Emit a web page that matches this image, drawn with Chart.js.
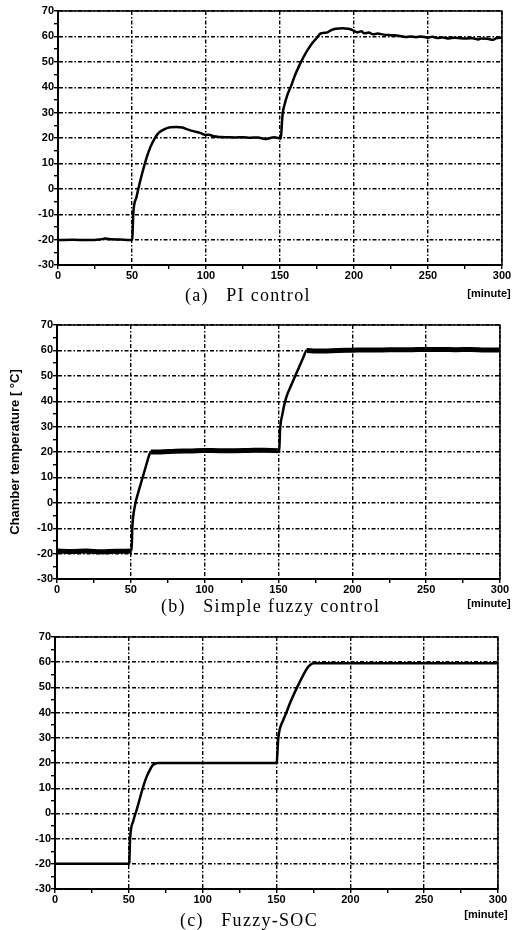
<!DOCTYPE html>
<html lang="en">
<head>
    <meta charset="UTF-8">
    <title>Chamber temperature response</title>
    <script src="https://cdn.jsdelivr.net/npm/chart.js"></script>
    <style>
        body { margin: 0; background: #fff; width: 513px; height: 930px; position: relative; overflow: hidden; }
        canvas { position: absolute; left: 0; }
        .caption { position: absolute; font-family: "Liberation Serif", "DejaVu Serif", serif; font-size: 18px; letter-spacing: 1.3px; color: #000; white-space: pre; transform: translateY(-50%); }
        .unit { position: absolute; font-family: "Liberation Sans", Arial, sans-serif; font-weight: bold; font-size: 11px; color: #000; transform: translate(-50%, -50%); }
    </style>
</head>
<body>
    <canvas id="chartA" width="513" height="300" style="top:0px"></canvas>
    <canvas id="chartB" width="513" height="300" style="top:310px"></canvas>
    <canvas id="chartC" width="513" height="290" style="top:620px"></canvas>

    <div class="caption" style="left:185px; top:295px">(a)   PI control</div>
    <div class="caption" style="left:161px; top:606px">(b)   Simple fuzzy control</div>
    <div class="caption" style="left:180px; top:920px">(c)   Fuzzy-SOC</div>

    <div class="unit" style="left:489px; top:293px">[minute]</div>
    <div class="unit" style="left:489px; top:603px">[minute]</div>
    <div class="unit" style="left:486px; top:914px">[minute]</div>

    <script>
        // (a) PI control - time [min], temperature [C]
        const piTime = [0, 10, 20, 28, 32, 36, 42, 48, 50.2, 50.6, 50.9, 53, 55.5, 58, 60, 62.5, 65, 68, 72, 76, 80, 84, 88, 92, 96,
            100, 102, 105, 110, 115, 120, 125, 130, 135, 140, 143, 146, 149, 150.6, 151.2, 151.8, 153, 155, 157.5, 160, 163,
            166, 169, 172, 175, 177, 180, 182, 185, 188, 192, 196, 199, 202, 205, 207, 210, 213, 216, 220, 225, 230, 235,
            238, 242, 245, 250, 253, 256, 260, 264, 268, 272, 276, 280, 284, 286, 290, 294, 296, 300];
        const piTemp = [-20.2, -20.1, -20.2, -20, -19.6, -19.9, -20, -20.2, -20, -14, -9.5, -3.3, 3, 8.5, 12.5, 16.5, 19.5, 22, 23.5, 24.2, 24.3, 24.1, 23.3, 22.6, 22,
            21.2, 21.3, 20.7, 20.4, 20.3, 20.2, 20.3, 20.1, 20.2, 19.6, 19.9, 20.3, 20, 19.8, 25, 29.5, 33, 37, 40.5, 44.5, 48.5,
            52, 55, 57.5, 59.5, 61, 61.4, 61.6, 62.6, 63, 63.2, 63, 62.5, 61.6, 62, 61.2, 61.5, 60.8, 61.1, 60.7, 60.5, 60.3, 59.8,
            60, 59.7, 60, 59.5, 59.9, 59.4, 59.6, 59.2, 59.5, 59.3, 59.2, 59.3, 58.8, 59.2, 59.1, 58.7, 59.3, 59.5];

        // (b) Simple fuzzy control
        const fuzzyTime = [0, 10, 20, 30, 40, 50.5, 51, 52.5, 55, 57.5, 60, 62, 63.5, 70, 80, 90, 100, 110, 120, 130, 140, 149.5,
            150.5, 151, 152.5, 155, 158, 161, 164, 167, 169, 175, 180, 190, 200, 210, 220, 230, 240, 250, 260, 270, 280, 290, 300];
        const fuzzyTemp = [-19, -19.2, -19, -19.3, -19.1, -19, -10, -2, 4, 9, 14, 18, 20, 20, 20.3, 20.4, 20.6, 20.5, 20.5, 20.6, 20.7, 20.5,
            20, 28, 34.5, 41, 45.5, 49.5, 53.5, 57.5, 60, 59.8, 59.8, 60, 60.1, 60.2, 60.2, 60.3, 60.3, 60.4, 60.4, 60.3, 60.4, 60.2, 60.2];

        // (c) Fuzzy-SOC
        const socTime = [0, 50, 50.3, 50.8, 53, 55.3, 57.5, 59.8, 62, 64.3, 66, 68, 70, 150, 150.3, 151.2, 152.5, 154.6, 157, 159.1,
            163.7, 168.2, 171, 173, 175, 180, 300];
        const socTemp = [-20, -20, -19.5, -10.5, -3, 1.4, 6, 10.7, 14.5, 17.3, 19, 19.8, 20, 20, 21, 29.8, 34, 37.1, 40.5, 43.7,
            49.7, 55, 57.8, 59, 59.6, 59.6, 59.6];

        const xMin = 0, xMax = 300, xStep = 25, xLabelStep = 50;
        const yMin = -30, yMax = 70, yStep = 5, yLabelStep = 10;
        const yTitle = 'Chamber temperature [ \u00b0C]';

        const tickFont = { family: '"Liberation Sans", Arial, sans-serif', size: 11, weight: 'bold' };

        // Draw the closed frame around the plot area
        const framePlugin = {
            id: 'frame',
            afterDraw(chart) {
                const { ctx, chartArea: a } = chart;
                ctx.save();
                ctx.strokeStyle = '#000';
                ctx.lineWidth = 1.5;
                ctx.strokeRect(a.left, a.top, a.right - a.left, a.bottom - a.top);
                ctx.restore();
            }
        };

        function toPoints(xs, ys) {
            return xs.map((x, i) => ({ x: x, y: ys[i] }));
        }

        function makeChart(id, xs, ys, box, opts) {
            const majorGrid = (step) => (ctx) => {
                const v = ctx.tick ? ctx.tick.value : 0;
                return Math.abs(v % step) < 1e-6 ? '#000' : 'rgba(0,0,0,0)';
            };
            return new Chart(document.getElementById(id), {
                type: 'line',
                data: {
                    datasets: [{
                        data: toPoints(xs, ys),
                        borderColor: '#000',
                        borderWidth: opts.lineWidth,
                        pointRadius: 0,
                        cubicInterpolationMode: 'monotone',
                        segment: opts.segment || {}
                    }]
                },
                options: {
                    responsive: false,
                    animation: false,
                    layout: { padding: { left: 0, right: 513 - box.right, top: box.top, bottom: 0 } },
                    plugins: { legend: { display: false }, tooltip: { enabled: false } },
                    scales: {
                        x: {
                            type: 'linear',
                            min: xMin,
                            max: xMax,
                            afterFit(scale) { scale.height = box.xh; },
                            ticks: {
                                stepSize: xStep,
                                autoSkip: false,
                                maxRotation: 0,
                                padding: 0,
                                color: '#000',
                                font: tickFont,
                                callback: (v) => (v % xLabelStep === 0 ? v : '')
                            },
                            grid: { color: majorGrid(xLabelStep), tickColor: '#000', tickLength: 4, lineWidth: 1.4 },
                            border: { color: '#000', width: 2, dash: [4, 2, 1.5, 2] }
                        },
                        y: {
                            min: yMin,
                            max: yMax,
                            afterFit(scale) { scale.width = box.left; },
                            ticks: {
                                stepSize: yStep,
                                autoSkip: false,
                                padding: 0,
                                color: '#000',
                                font: tickFont,
                                callback: (v) => (v % yLabelStep === 0 ? v : '')
                            },
                            grid: { color: majorGrid(yLabelStep), tickColor: '#000', tickLength: 4, lineWidth: 1.4 },
                            border: { color: '#000', width: 2, dash: [4, 2, 1.5, 2] },
                            title: {
                                display: !!opts.showTitle,
                                text: yTitle,
                                color: '#000',
                                font: { family: '"Liberation Sans", Arial, sans-serif', size: 13, weight: 'bold' },
                                padding: { top: 8, bottom: 0 }
                            }
                        }
                    }
                },
                plugins: [framePlugin]
            });
        }

        // Panel (b) trace is a thick noisy band on the flat parts, thinner on the ramps
        const bandSegment = {
            borderWidth: (ctx) => {
                const dy = Math.abs(ctx.p1.parsed.y - ctx.p0.parsed.y);
                const dx = Math.abs(ctx.p1.parsed.x - ctx.p0.parsed.x);
                return dy / dx < 0.2 ? 5 : 2.5;
            }
        };

        makeChart('chartA', piTime, piTemp, { left: 58, right: 502, top: 11, xh: 35 }, { lineWidth: 2.5 });
        makeChart('chartB', fuzzyTime, fuzzyTemp, { left: 57, right: 500, top: 15, xh: 31 }, { lineWidth: 2.5, segment: bandSegment, showTitle: true });
        makeChart('chartC', socTime, socTemp, { left: 55, right: 498, top: 17, xh: 21 }, { lineWidth: 2.5 });
    </script>
</body>
</html>
